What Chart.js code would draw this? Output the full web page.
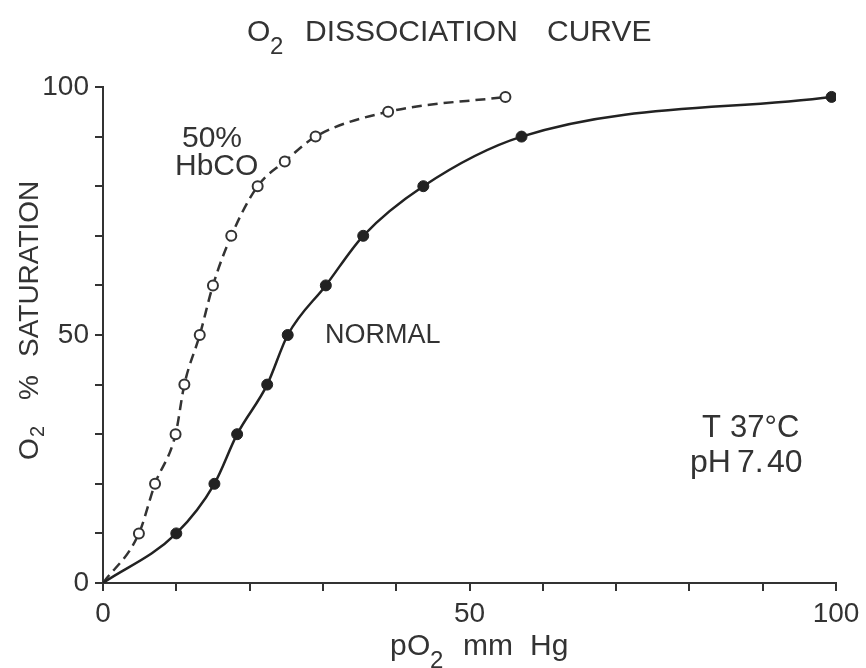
<!DOCTYPE html>
<html>
<head>
<meta charset="utf-8">
<script src="https://cdn.jsdelivr.net/npm/chart.js@4/dist/chart.umd.min.js"></script>
<style>
  html, body { margin: 0; padding: 0; background: #fff; }
  #wrap { width: 866px; height: 668px; position: relative; }
</style>
</head>
<body>
<div id="wrap"><canvas id="chart"></canvas></div>
<script>
// pO2 (mm Hg) and % saturation
const normalPO2 = [0, 10, 15.2, 18.3, 22.4, 25.2, 30.4, 35.5, 43.7, 57.1, 99.4];
const normalSat = [0, 10, 20, 30, 40, 50, 60, 70, 80, 90, 98];
const hbcoPO2 = [0, 4.9, 7.1, 9.9, 11.1, 13.2, 15, 17.5, 21.1, 24.8, 29, 38.9, 54.9];
const hbcoSat = [0, 10, 20, 30, 40, 50, 60, 70, 80, 85, 90, 95, 98];
const xTickLabels = [0, 50, 100];
const yTickLabels = [0, 50, 100];

const ink = '#333';
const sans = '"Liberation Sans", Arial, sans-serif';
const narrow = '"Liberation Sans Narrow", "Liberation Sans", sans-serif';

const toPoints = (xs, ys) => xs.map((x, i) => ({ x: x, y: ys[i] }));

// hand lettering: title, axis titles and notes
const lettering = {
  id: 'lettering',
  afterDraw(chart) {
    const ctx = chart.ctx;
    ctx.save();
    ctx.fillStyle = ink;
    ctx.textBaseline = 'alphabetic';
    ctx.textAlign = 'left';

    // title
    ctx.font = `30px ${sans}`;
    ctx.fillText('O', 247, 41);
    ctx.fillText('DISSOCIATION', 305, 41);
    ctx.fillText('CURVE', 547, 41);
    ctx.font = `24px ${sans}`;
    ctx.fillText('2', 270, 54);

    // x axis title
    ctx.font = `30px ${sans}`;
    ctx.fillText('p', 390, 655);
    ctx.fillText('O', 407, 655);
    ctx.fillText('mm', 463, 655);
    ctx.fillText('Hg', 530, 655);
    ctx.font = `24px ${sans}`;
    ctx.fillText('2', 430, 668);

    // y axis title
    ctx.save();
    ctx.translate(38, 460);
    ctx.rotate(-Math.PI / 2);
    ctx.font = `28px ${sans}`;
    ctx.fillText('O', 0, 0);
    ctx.fillText('%', 60, 0);
    ctx.fillText('SATURATION', 103, 0);
    ctx.font = `20px ${sans}`;
    ctx.fillText('2', 23, 6);
    ctx.restore();

    // curve labels
    ctx.font = `30px ${sans}`;
    ctx.fillText('50%', 182, 147);
    ctx.font = `30px ${narrow}`;
    ctx.fillText('HbCO', 175, 175);
    ctx.font = `27px ${sans}`;
    ctx.fillText('NORMAL', 325, 343);

    // conditions
    ctx.font = `31px ${sans}`;
    ctx.fillText('T', 702, 437);
    ctx.fillText('37°C', 730, 437);
    ctx.font = `32px ${sans}`;
    ctx.fillText('pH', 690, 472);
    ctx.fillText('7.', 737, 472);
    ctx.fillText('40', 767, 472);
    ctx.restore();
  },
};

const axisStyle = {
  min: 0,
  max: 100,
  border: { display: true, color: ink, width: 2 },
  grid: { drawOnChartArea: false, drawTicks: true, tickLength: 8, color: ink, lineWidth: 2 },
};

new Chart(document.getElementById('chart'), {
  type: 'line',
  data: {
    datasets: [
      {
        label: 'NORMAL',
        data: toPoints(normalPO2, normalSat),
        borderColor: '#222',
        borderWidth: 2.5,
        backgroundColor: '#222',
        pointBackgroundColor: '#222',
        pointBorderColor: '#222',
        pointBorderWidth: 1,
        pointRadius: normalPO2.map((x, i) => (i === 0 ? 0 : 5.5)),
        cubicInterpolationMode: 'monotone',
        fill: false,
      },
      {
        label: '50% HbCO',
        data: toPoints(hbcoPO2, hbcoSat),
        borderColor: '#333',
        borderWidth: 2.5,
        borderDash: [10, 6],
        pointBackgroundColor: '#fff',
        pointBorderColor: '#333',
        pointBorderWidth: 2,
        pointRadius: hbcoPO2.map((x, i) => (i === 0 ? 0 : 5)),
        cubicInterpolationMode: 'monotone',
        fill: false,
      },
    ],
  },
  options: {
    responsive: true,
    maintainAspectRatio: false,
    animation: false,
    devicePixelRatio: 1,
    layout: { padding: { top: 87, right: 30, left: 0, bottom: 0 } },
    scales: {
      x: {
        ...axisStyle,
        type: 'linear',
        afterFit: (scale) => { scale.height = 85; },
        ticks: {
          stepSize: 10,
          color: ink,
          padding: 6,
          maxRotation: 0,
          font: { family: sans, size: 28 },
          callback: (v) => (xTickLabels.includes(v) ? String(v) : ''),
        },
      },
      y: {
        ...axisStyle,
        afterFit: (scale) => { scale.width = 103; },
        ticks: {
          stepSize: 10,
          color: ink,
          padding: 6,
          font: { family: sans, size: 28 },
          callback: (v) => (yTickLabels.includes(v) ? String(v) : ''),
        },
      },
    },
    plugins: {
      legend: { display: false },
      tooltip: { enabled: false },
    },
  },
  plugins: [lettering],
});
</script>
</body>
</html>
